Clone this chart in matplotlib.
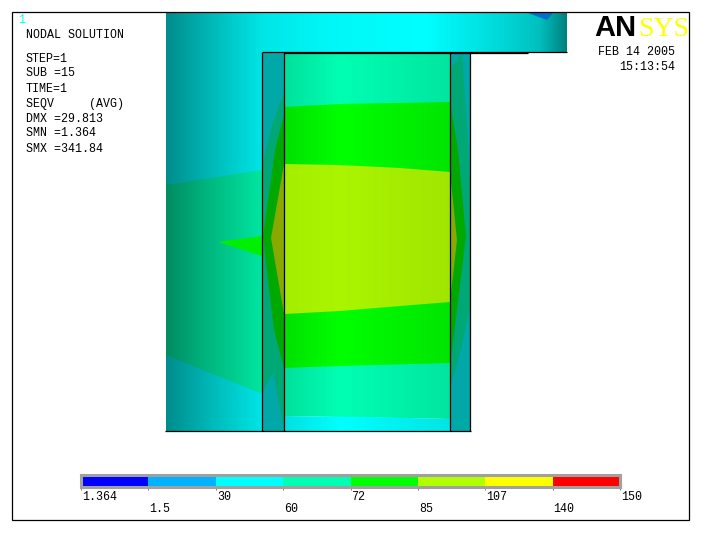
import numpy as np
from matplotlib import pyplot as plt
from matplotlib.colors import to_rgb
from matplotlib.patches import Polygon, Rectangle

# contour legend
legend_levels = ['1.364', '1.5', '30', '60', '72', '85', '107', '140', '150']
legend_colors = ['#0000ff', '#00b2ff', '#00ffff', '#00ffb2', '#00ff00', '#b2ff00', '#ffff00', '#ff0000']

# text blocks
info_lines = ['STEP=1', 'SUB =15', 'TIME=1', 'SEQV     (AVG)', 'DMX =29.813', 'SMN =1.364', 'SMX =341.84']

# contour bands, outlines read in image pixels
flange_cyan = [(166, 13), (567, 13), (567, 52), (262, 52), (262, 431), (166, 431)]
flange_blue = [(528, 13), (553, 13), (547, 20)]
flange_teal = [(166, 185), (262, 170), (262, 394), (166, 355)]
flange_green = [(218, 242), (262, 236), (262, 256)]

core_teal = [(284, 53), (450, 53), (450, 419), (284, 416)]
core_green = [(284, 107), (340, 104), (450, 102), (450, 363), (340, 366), (284, 368)]
core_lime = [(284, 164), (340, 165), (400, 168), (450, 172), (450, 302), (400, 306), (340, 311), (284, 314)]
core_cyan = [(284, 416), (370, 417), (450, 419), (450, 431), (284, 431)]

left_base = [(262, 53), (284, 53), (284, 431), (262, 431)]
left_teal = [(284, 93), (272, 125), (262, 165), (262, 393), (273, 372), (284, 430)]
left_green = [(284, 115), (275, 150), (263, 237), (274, 330), (284, 368)]
left_olive = [(284, 164), (271, 238), (284, 314)]

right_base = [(450, 53), (470, 53), (470, 431), (450, 431)]
right_teal = [(450, 70), (462, 53), (467, 125), (470, 180), (470, 310), (460, 353), (451, 385), (450, 385)]
right_green = [(450, 100), (458, 150), (466, 236), (452, 350), (450, 372)]
right_olive = [(450, 172), (457, 240), (450, 302)]

# lighting across the model, x position and brightness
outer_x = [166, 210, 262, 330, 425, 500, 540, 567]
outer_light = [0.55, 0.72, 0.9, 0.97, 1.0, 0.85, 0.75, 0.5]
core_x = [284, 340, 450]
core_light = [0.88, 1.0, 0.9]
lime_light = [0.93, 0.96, 0.9]
sleeve_x = [262, 470]
sleeve_light = [0.66, 0.66]

# model edges, in image pixels
edge_lines = [
    ([262, 262], [52, 431]), ([284, 284], [52, 431]), ([450, 450], [52, 431]), ([470, 470], [52, 431]),
    ([165, 471], [431, 431]), ([262, 567], [52, 52]), ([284, 528], [53, 53]),
]

plt.rcParams['font.family'] = ['Liberation Mono', 'DejaVu Sans Mono']

fig = plt.figure(figsize=(7.26, 5.33), dpi=100)
ax = fig.add_axes([0, 0, 1, 1])
ax.set_xlim(0, 726)
ax.set_ylim(533, 0)
ax.axis('off')


def shaded(points, color, xs, light, z):
    # one colour band, darkened across x, clipped to its outline
    left = min(p[0] for p in points)
    right = max(p[0] for p in points)
    top = min(p[1] for p in points)
    bottom = max(p[1] for p in points)
    cols = np.arange(left, right + 1)
    row = np.interp(cols, xs, light)[None, :, None] * np.array(to_rgb(color))[None, None, :]
    im = ax.imshow(row, extent=(left, right, bottom, top), aspect='auto', interpolation='bilinear', zorder=z)
    patch = Polygon(points, closed=True, transform=ax.transData, facecolor='none', edgecolor='none')
    ax.add_patch(patch)
    im.set_clip_path(patch)


shaded(flange_cyan, '#00ffff', outer_x, outer_light, 1)
shaded(flange_blue, '#0070c8', outer_x, [1.0] * 8, 2)
shaded(flange_teal, '#00ffb2', outer_x, outer_light, 2)
shaded(flange_green, '#00f000', outer_x, [1.0] * 8, 3)

shaded(core_teal, '#00ffb2', core_x, core_light, 2)
shaded(core_cyan, '#00ffff', core_x, core_light, 3)
shaded(core_green, '#00ff00', core_x, core_light, 3)
shaded(core_lime, '#b2ff00', core_x, lime_light, 4)

shaded(left_base, '#00ffff', sleeve_x, sleeve_light, 2)
shaded(left_teal, '#00ffb2', sleeve_x, sleeve_light, 3)
shaded(left_green, '#00ff00', sleeve_x, sleeve_light, 4)
shaded(left_olive, '#d0ff00', sleeve_x, sleeve_light, 5)

shaded(right_base, '#00ffff', sleeve_x, sleeve_light, 2)
shaded(right_teal, '#00ffb2', sleeve_x, sleeve_light, 3)
shaded(right_green, '#00ff00', sleeve_x, sleeve_light, 4)
shaded(right_olive, '#d0ff00', sleeve_x, sleeve_light, 5)

ax.set_xlim(0, 726)
ax.set_ylim(533, 0)

for xs, ys in edge_lines:
    ax.plot(xs, ys, color='k', lw=0.9, zorder=6, solid_capstyle='butt')

ax.add_patch(Rectangle((12, 12), 677, 508, fill=False, edgecolor='k', lw=0.9, zorder=7))

# texts
ax.text(18, 20, '1', color='#00ffff', fontsize=8.4, va='center', ha='left')
ax.text(26, 35, 'NODAL SOLUTION', color='k', fontsize=8.4, va='center', ha='left')
for i, line in enumerate(info_lines):
    ax.text(26, 58.5 + i * 15, line, color='k', fontsize=8.4, va='center', ha='left')
ax.text(675, 52, 'FEB 14 2005', color='k', fontsize=8.4, va='center', ha='right')
ax.text(675, 67, '15:13:54', color='k', fontsize=8.4, va='center', ha='right')

ax.text(594, 36, 'AN', color='k', fontsize=21, family='Liberation Sans', weight='bold', va='baseline', ha='left')
ax.text(638, 36, 'SYS', color='#ffff00', fontsize=20, family='Liberation Serif', va='baseline', ha='left')

# colour legend along the bottom
cax = fig.add_axes([81 / 726, 1 - 487 / 533, 539 / 726, 12 / 533])
cax.bar(range(8), 1, width=1, align='edge', color=legend_colors)
cax.set_xlim(0, 8)
cax.set_ylim(0, 1)
cax.set_yticks([])
cax.set_xticks(range(9))
cax.set_xticklabels([])
cax.tick_params(axis='x', length=2, width=0.7, color='#808080')
for s in cax.spines.values():
    s.set_color('#a0a0a0')
    s.set_linewidth(2.2)
for i, lab in enumerate(legend_levels):
    y = 497 if i % 2 == 0 else 509
    ax.text(81 + i * 539 / 8 + 1, y, lab, color='k', fontsize=8.4, va='center', ha='left')

fig.savefig('out.png', dpi=100)
